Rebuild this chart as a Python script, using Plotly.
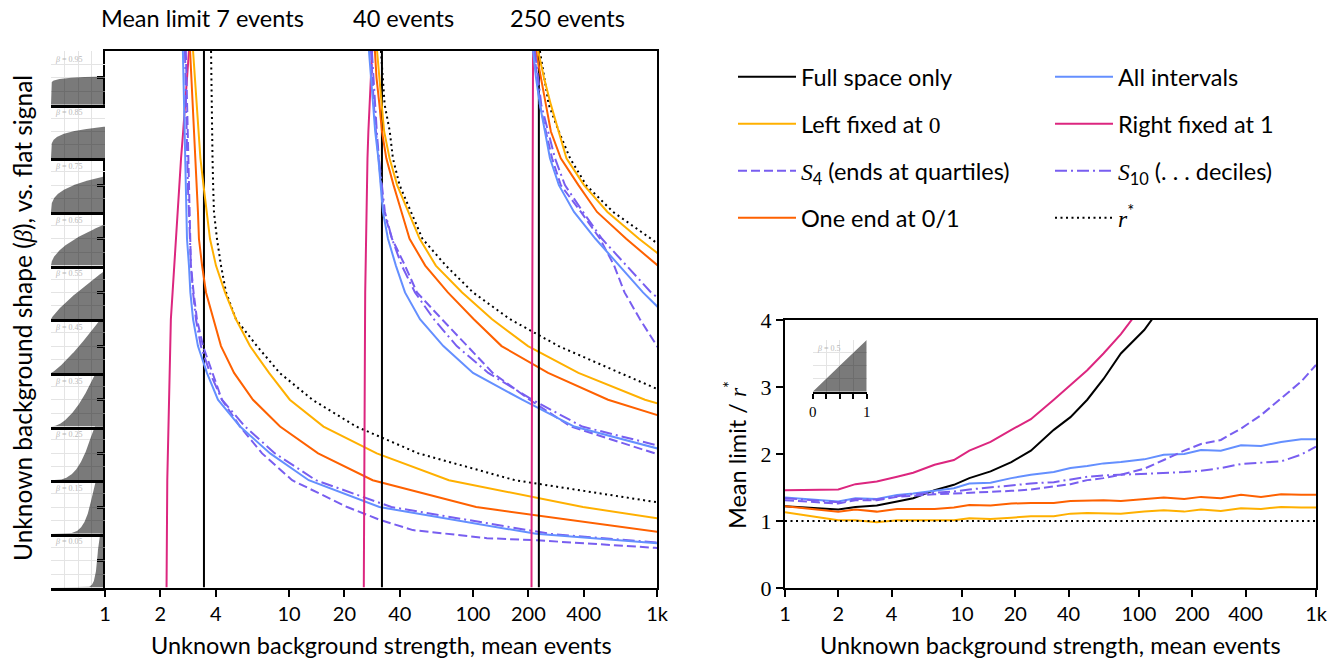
import numpy as np
import plotly.graph_objects as go

W, H = 1343, 660

# ---------------- data: left panel (background strength at which mean limit reaches a level) -------------
BETA = [1.00, 0.95, 0.90, 0.85, 0.80, 0.75, 0.70, 0.65, 0.60, 0.55, 0.50,
        0.45, 0.40, 0.35, 0.30, 0.25, 0.20, 0.15, 0.10, 0.05, 0.00]
THUMB_BETAS = [0.05, 0.15, 0.25, 0.35, 0.45, 0.55, 0.65, 0.75, 0.85, 0.95]
INSET_BETA = 0.5

# mean limit 7 events
FULL_7 = 3.45
LEFT0_7 = [3.01, 3.08, 3.16, 3.24, 3.30, 3.43, 3.58, 3.72, 4.01, 4.49, 5.15, 6.14, 7.79, 10.1, 15.4, 30.0, 74.0, 396.0, 3600.0]
ONE_7 = [2.90, 2.95, 3.01, 3.05, 3.10, 3.16, 3.20, 3.24, 3.37, 3.54, 3.89, 4.27, 5.03, 6.37, 8.94, 14.4, 28.5, 104.0, 1200.0]
ALL_7 = [2.65, 2.67, 2.69, 2.72, 2.74, 2.76, 2.77, 2.79, 2.86, 2.91, 3.01, 3.20, 3.58, 4.11, 5.42, 7.9, 12.8, 31.0, 220.0, 16000.0]
S10_7 = [2.72, 2.74, 2.76, 2.78, 2.79, 2.82, 2.86, 2.90, 2.93, 3.01, 3.12, 3.32, 3.72, 4.32, 5.77, 8.39, 14.0, 36.0, 262.0, 16000.0]
S4_7_BETA = [1.0, 0.95, 0.9, 0.85, 0.8, 0.75, 0.7, 0.65, 0.6, 0.55, 0.5, 0.45, 0.4, 0.35, 0.3, 0.25, 0.2,
             0.15, 0.126, 0.107, 0.092, 0.088, 0.074, 0.05]
S4_7 = [2.75, 2.77, 2.79, 2.81, 2.83, 2.85, 2.88, 2.90, 2.93, 3.03, 3.16, 3.41, 3.82, 4.32, 5.42, 7.14, 10.4,
        20.7, 31.2, 47.1, 119.0, 223.0, 975.0, 21000.0]
RSTAR_7 = [3.77, 3.78, 3.79, 3.81, 3.84, 3.87, 3.91, 4.06, 4.27, 4.55, 5.15, 6.7, 8.9, 13.4, 23.2, 50.5, 169.0, 1470.0]
RIGHT1_7 = [2.86, 2.80, 2.74, 2.66, 2.59, 2.54, 2.49, 2.44, 2.39, 2.33, 2.28, 2.26, 2.24, 2.22, 2.20, 2.19,
            2.18, 2.175, 2.17, 2.165, 2.16]

# mean limit 40 events
FULL_40 = 32.0
LEFT0_40 = [30.1, 30.9, 31.9, 32.9, 35.2, 38.7, 44.4, 51.3, 62.8, 87.3, 127.0, 199.0, 374.0, 860.0, 2650.0]
ONE_40 = [29.3, 29.9, 31.0, 32.0, 33.8, 37.0, 40.9, 45.2, 55.0, 73.0, 101.0, 143.0, 256.0, 542.0, 1590.0]
ALL_40 = [27.2, 27.9, 28.4, 29.4, 30.6, 31.6, 32.4, 34.5, 38.1, 42.7, 51.5, 69.0, 100.0, 185.0, 355.0, 1270.0]
S10_40 = [28.2, 28.7, 29.3, 30.0, 30.8, 32.0, 33.2, 36.3, 41.0, 48.4, 61.3, 81.6, 121.0, 210.0, 392.0, 1500.0]
S4_40 = [27.9, 28.4, 28.9, 29.7, 30.6, 31.7, 32.8, 36.3, 42.7, 49.6, 67.8, 93.2, 128.0, 203.0, 340.0, 975.0, 3000.0]
RSTAR_40 = [31.6, 32.4, 33.1, 35.3, 36.7, 39.9, 46.1, 53.1, 71.2, 100.0, 159.0, 292.0, 629.0, 1370.0]
RIGHT1_40 = [28.3, 27.8, 27.4, 27.0, 26.7, 26.5, 26.3, 26.1, 26.0, 25.95, 25.9, 25.85, 25.8, 25.75, 25.7,
             25.65, 25.6, 25.55, 25.5, 25.5, 25.5]

# mean limit 250 events
FULL_250 = 228.0
LEFT0_250 = [226.0, 243.0, 265.0, 293.0, 322.0, 401.0, 538.0, 798.0, 1230.0]
ONE_250 = [220.0, 235.0, 249.0, 265.0, 300.0, 374.0, 472.0, 680.0, 1010.0, 1500.0]
ALL_250 = [212.0, 220.0, 231.0, 246.0, 262.0, 293.0, 354.0, 463.0, 621.0, 839.0, 1180.0]
S10_250 = [217.0, 226.0, 235.0, 256.0, 279.0, 316.0, 396.0, 502.0, 680.0, 928.0, 1410.0]
S4_250 = [215.0, 223.0, 231.0, 249.0, 269.0, 300.0, 386.0, 490.0, 585.0, 666.0, 808.0, 1000.0, 1260.0]
RSTAR_250 = [231.0, 243.0, 258.0, 293.0, 337.0, 412.0, 577.0, 928.0, 1450.0]
RIGHT1_250 = [212.0, 211.7, 211.4, 211.0, 210.7, 210.4, 210.1, 209.8, 209.6, 209.4, 209.2, 209.0, 208.8,
              208.6, 208.5, 208.4, 208.3, 208.2, 208.1, 208.0, 208.0]

# ---------------- data: right panel (mean limit / r*, beta = 0.5) ----------------
BKG_R = [1, 2, 2.5, 3.3, 4.3, 5.3, 7, 9, 11, 14.5, 19, 24.5, 33, 41, 51, 63, 79, 107, 138, 180, 224,
         290, 377, 489, 635, 824, 1000]
R_FULL = [1.22, 1.17, 1.21, 1.23, 1.29, 1.34, 1.46, 1.54, 1.64, 1.74, 1.88, 2.05, 2.36, 2.55, 2.81, 3.12,
          3.50, 3.85, 4.25]
R_RIGHT1 = [1.46, 1.47, 1.55, 1.59, 1.66, 1.72, 1.84, 1.91, 2.05, 2.18, 2.36, 2.52, 2.81, 3.03, 3.25, 3.50,
            3.79, 4.25]
R_ALL = [1.35, 1.29, 1.34, 1.33, 1.39, 1.41, 1.45, 1.49, 1.56, 1.57, 1.64, 1.69, 1.73, 1.79, 1.82, 1.86,
         1.88, 1.92, 1.99, 2.00, 2.06, 2.05, 2.13, 2.12, 2.18, 2.22, 2.22]
R_S4 = [1.31, 1.26, 1.31, 1.31, 1.36, 1.38, 1.40, 1.41, 1.42, 1.43, 1.45, 1.47, 1.51, 1.55, 1.61, 1.64,
        1.69, 1.78, 1.91, 2.05, 2.15, 2.21, 2.38, 2.58, 2.83, 3.08, 3.33]
R_S10 = [1.34, 1.28, 1.33, 1.32, 1.37, 1.40, 1.42, 1.44, 1.47, 1.50, 1.54, 1.56, 1.58, 1.62, 1.66, 1.68,
         1.69, 1.70, 1.71, 1.73, 1.75, 1.79, 1.85, 1.87, 1.89, 1.99, 2.11]
R_ONE = [1.22, 1.14, 1.17, 1.14, 1.18, 1.18, 1.18, 1.20, 1.24, 1.23, 1.26, 1.27, 1.27, 1.30, 1.31, 1.31,
         1.30, 1.33, 1.35, 1.33, 1.36, 1.34, 1.39, 1.36, 1.40, 1.39, 1.39]
R_LEFT0 = [1.13, 1.01, 1.01, 0.98, 1.01, 1.01, 1.01, 1.01, 1.04, 1.03, 1.05, 1.07, 1.07, 1.11, 1.12, 1.12,
           1.11, 1.14, 1.16, 1.14, 1.17, 1.15, 1.19, 1.18, 1.21, 1.20, 1.20]
R_RSTAR_X = [1, 1000]
R_RSTAR = [1.0, 1.0]

X_TICKS = [1, 2, 4, 10, 20, 40, 100, 200, 400, 1000]
X_TICKTEXT = ["1", "2", "4", "10", "20", "40", "100", "200", "400", "1k"]

# ---------------- styles ----------------
C_BLACK = "#000000"
C_LEFT0 = "#FFB000"
C_PURPLE = "#785EF0"
C_ONE = "#FE6100"
C_ALL = "#648FFF"
C_RIGHT1 = "#DC267F"
LW = 2
DASHED = "9px,4px"
DASHDOT = "12px,4px,2px,4px"
DOTTED = "2px,3.5px"
SANS = "Lato, 'Open Sans', sans-serif"
SERIF = "'Liberation Serif', 'DejaVu Serif', serif"
LAB_SIZE = 23.5


def px_x(p):
    return p / W


def px_y(p):
    return (H - p) / H


def serif_i(s):
    return "<span style='font-family:Liberation Serif'><i>%s</i></span>" % s


fig = go.Figure()


def add_main(xs, ys, color, dash="solid"):
    fig.add_trace(go.Scatter(x=xs, y=ys, mode="lines", xaxis="x", yaxis="y",
                             line=dict(color=color, width=LW, dash=dash),
                             showlegend=False, hoverinfo="skip"))


groups = [
    (FULL_7, LEFT0_7, ONE_7, ALL_7, S10_7, (S4_7_BETA, S4_7), RSTAR_7, RIGHT1_7),
    (FULL_40, LEFT0_40, ONE_40, ALL_40, S10_40, (BETA, S4_40), RSTAR_40, RIGHT1_40),
    (FULL_250, LEFT0_250, ONE_250, ALL_250, S10_250, (BETA, S4_250), RSTAR_250, RIGHT1_250),
]
for full, left0, one, allv, s10, (s4b, s4), rstar, right1 in groups:
    add_main(right1, BETA[:len(right1)], C_RIGHT1)
    add_main([full, full], [0, 1], C_BLACK)
    add_main(rstar, BETA[:len(rstar)], C_BLACK, DOTTED)
    add_main(left0, BETA[:len(left0)], C_LEFT0)
    add_main(one, BETA[:len(one)], C_ONE)
    add_main(s4, s4b[:len(s4)], C_PURPLE, DASHED)
    add_main(s10, BETA[:len(s10)], C_PURPLE, DASHDOT)
    add_main(allv, BETA[:len(allv)], C_ALL)

# ---------------- right panel with legend entries ----------------
right_series = [
    ("Full space only", R_FULL, C_BLACK, "solid", 1),
    ("All intervals", R_ALL, C_ALL, "solid", 2),
    ("Left fixed at <span style='font-family:Liberation Serif'>0</span>", R_LEFT0, C_LEFT0, "solid", 3),
    ("Right fixed at 1", R_RIGHT1, C_RIGHT1, "solid", 4),
    (serif_i("S") + "<sub>4</sub> (ends at quartiles)", R_S4, C_PURPLE, DASHED, 5),
    (serif_i("S") + "<sub>10</sub> (. . . deciles)", R_S10, C_PURPLE, DASHDOT, 6),
    ("One end at 0/1", R_ONE, C_ONE, "solid", 7),
    (serif_i("r") + "<sup>*</sup>", R_RSTAR, C_BLACK, DOTTED, 8),
]
for name, vals, color, dash, idx in right_series:
    xs = R_RSTAR_X if vals is R_RSTAR else BKG_R[:len(vals)]
    leg = "legend" if idx == 1 else "legend%d" % idx
    fig.add_trace(go.Scatter(x=xs, y=vals, mode="lines", xaxis="x2", yaxis="y2", name=name,
                             line=dict(color=color, width=LW, dash=dash),
                             legend=leg, showlegend=True, hoverinfo="skip"))

# ---------------- thumbnails of the background shape ----------------
xs_shape = np.concatenate([np.linspace(0, 0.02, 60), np.linspace(0.02, 1, 300)[1:]])
thumb_px_h = 536.5 / 10
layout_axes = {}
annots = []
GRID = "#e4e4e4"


def shape_axes(k, xdom, ydom, inset=False):
    xa = dict(domain=xdom, range=[0, 1], anchor="y%d" % k, showgrid=True, gridcolor=GRID, gridwidth=1,
              zeroline=False, showline=True, linecolor="black", linewidth=2.5 if not inset else 2,
              fixedrange=True)
    if inset:
        xa.update(tickvals=[0, 1], ticks="outside", ticklen=5, tickwidth=2, tickcolor="black",
                  showticklabels=True, tickfont=dict(family=SERIF, size=15, color="black"),
                  minor=dict(tickvals=[0.25, 0.5, 0.75], ticks="outside", ticklen=5, tickwidth=2,
                             tickcolor="black", showgrid=True, gridcolor=GRID, gridwidth=1))
    else:
        xa.update(tickvals=[0, 0.25, 0.5, 0.75], ticks="", showticklabels=False)
    ya = dict(domain=ydom, range=[0, 2], anchor="x%d" % k, showgrid=True, gridcolor=GRID, gridwidth=1,
              tickvals=[0.5, 1, 1.5, 2], ticks="", showticklabels=False, zeroline=False, showline=False,
              fixedrange=True)
    layout_axes["xaxis%d" % k] = xa
    layout_axes["yaxis%d" % k] = ya


def add_shape_trace(k, b):
    ys = xs_shape ** (1.0 / b - 1.0) / b
    ys = np.minimum(ys, 2.5)
    fig.add_trace(go.Scatter(x=xs_shape, y=ys, mode="lines", fill="tozeroy",
                             fillcolor="rgba(0,0,0,0.52)", line=dict(width=0, color="rgba(0,0,0,0)"),
                             xaxis="x%d" % k, yaxis="y%d" % k, showlegend=False, hoverinfo="skip"))
    annots.append(dict(text="<i>β</i> = %g" % b, xref="x%d domain" % k, yref="y%d domain" % k,
                       x=0.04, y=0.97, xanchor="left", yanchor="top", showarrow=False,
                       font=dict(family=SERIF, size=8, color="#b8b8b8")))


for i, b in enumerate(THUMB_BETAS):
    k = 3 + i
    bottom = 587.5 - thumb_px_h * i
    top = bottom - thumb_px_h
    shape_axes(k, [px_x(51), px_x(105)], [px_y(bottom), px_y(top)])
    add_shape_trace(k, b)

k_in = 3 + len(THUMB_BETAS)
shape_axes(k_in, [px_x(812.7), px_x(866.7)], [px_y(391.7), px_y(340)], inset=True)
add_shape_trace(k_in, INSET_BETA)

# ---------------- main axes ----------------
tickfont = dict(family=SANS, size=20, color="black")
layout_axes["xaxis"] = dict(domain=[px_x(105), px_x(657)], type="log", range=[0, 3], anchor="y",
                            tickvals=X_TICKS, ticktext=X_TICKTEXT, ticks="outside", ticklen=7, tickwidth=1.5,
                            tickcolor="black", showline=True, linecolor="black", linewidth=2, mirror=True,
                            showgrid=False, zeroline=False, tickfont=tickfont, automargin=False)
layout_axes["yaxis"] = dict(domain=[px_y(587.5), px_y(51)], range=[0, 1], anchor="x",
                            tickvals=THUMB_BETAS, ticks="outside", ticklen=6, tickwidth=2.5, tickcolor="black",
                            showticklabels=False, showline=True, linecolor="black", linewidth=2, mirror=True,
                            showgrid=False, zeroline=False, automargin=False)
layout_axes["xaxis2"] = dict(domain=[px_x(785), px_x(1316)], type="log", range=[0, 3], anchor="y2",
                             tickvals=X_TICKS, ticktext=X_TICKTEXT, ticks="outside", ticklen=7, tickwidth=1.5,
                             tickcolor="black", showline=True, linecolor="black", linewidth=2, mirror=True,
                             showgrid=False, zeroline=False, tickfont=tickfont, automargin=False)
layout_axes["yaxis2"] = dict(domain=[px_y(588), px_y(320)], range=[0, 4], anchor="x2",
                             tickvals=[0, 1, 2, 3, 4], ticks="outside", ticklen=7, tickwidth=1.5,
                             tickcolor="black", showline=True, linecolor="black", linewidth=2, mirror=True,
                             showgrid=False, zeroline=False, automargin=False,
                             tickfont=dict(family=SERIF, size=22, color="black"))

# ---------------- text annotations ----------------
lab_font = dict(family=SANS, size=LAB_SIZE, color="black")
annots += [
    dict(text="Mean limit 7 events", x=px_x(203), y=px_y(18), xref="paper", yref="paper", showarrow=False,
         font=lab_font, xanchor="center", yanchor="middle"),
    dict(text="40 events", x=px_x(403), y=px_y(18), xref="paper", yref="paper", showarrow=False,
         font=lab_font, xanchor="center", yanchor="middle"),
    dict(text="250 events", x=px_x(567), y=px_y(18), xref="paper", yref="paper", showarrow=False,
         font=lab_font, xanchor="center", yanchor="middle"),
    dict(text="Unknown background strength, mean events", x=px_x(381), y=px_y(645), xref="paper",
         yref="paper", showarrow=False, font=lab_font, xanchor="center", yanchor="middle"),
    dict(text="Unknown background strength, mean events", x=px_x(1050), y=px_y(645), xref="paper",
         yref="paper", showarrow=False, font=lab_font, xanchor="center", yanchor="middle"),
    dict(text="Unknown background shape (" + serif_i("β") + "), vs. flat signal", x=px_x(22), y=px_y(318),
         xref="paper", yref="paper", showarrow=False, font=dict(family=SANS, size=24.5, color="black"),
         textangle=-90, xanchor="center", yanchor="middle"),
    dict(text="Mean limit / " + serif_i("r") + "<sup>*</sup>", x=px_x(735),
         y=px_y(455), xref="paper", yref="paper", showarrow=False, font=lab_font, textangle=-90,
         xanchor="center", yanchor="middle"),
]

leg_common = dict(orientation="h", xanchor="left", yanchor="middle",
                  font=dict(family=SANS, size=LAB_SIZE, color="black"),
                  bgcolor="rgba(0,0,0,0)", borderwidth=0, itemwidth=58)
legends = {}
rows_px = [77, 124, 171, 218]
cols_px = [733, 1050]
for idx in range(1, 9):
    r = (idx - 1) // 2
    c = (idx - 1) % 2
    lname = "legend" if idx == 1 else "legend%d" % idx
    legends[lname] = dict(leg_common, x=px_x(cols_px[c]), y=px_y(rows_px[r]))

fig.update_layout(
    width=W, height=H, autosize=False,
    margin=dict(l=0, r=0, t=0, b=0, autoexpand=False),
    paper_bgcolor="white", plot_bgcolor="white",
    annotations=annots,
    **layout_axes,
    **legends,
)

fig.write_html("out.html")
